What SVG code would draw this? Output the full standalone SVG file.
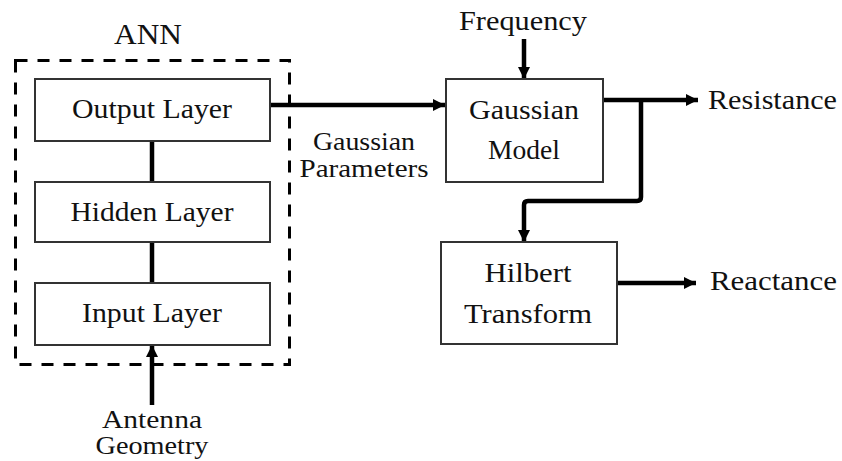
<svg xmlns="http://www.w3.org/2000/svg" width="842" height="461" viewBox="0 0 842 461">
<style>
.box{fill:#fff;stroke:#333;stroke-width:2}
.t{font-family:"Liberation Serif","DejaVu Serif",serif;font-size:27px;fill:#111;text-anchor:middle}
.ts{font-size:25px}
.c{fill:none;stroke:#000;stroke-width:4.5}
</style>
<defs>
<marker id="ah" viewBox="0 0 12 12" refX="12" refY="6" markerWidth="12" markerHeight="12" markerUnits="userSpaceOnUse" orient="auto">
<path d="M0,0 L12,6 L0,12 Z" fill="#000"/>
</marker>
</defs>
<g id="ann">
<rect x="15.5" y="60.5" width="274" height="304" fill="none" stroke="#000" stroke-width="3" stroke-dasharray="12 10"/>
<text class="t" x="148" y="44" style="font-size:30px" textLength="68" lengthAdjust="spacingAndGlyphs">ANN</text>
</g>
<g id="connectors">
<line class="c" x1="152" y1="141" x2="152" y2="182"/>
<line class="c" x1="152" y1="242" x2="152" y2="283"/>
<line class="c" x1="152" y1="405" x2="152" y2="345" marker-end="url(#ah)"/>
<line class="c" x1="270" y1="105" x2="445" y2="105" marker-end="url(#ah)"/>
<line class="c" x1="524" y1="39" x2="524" y2="79" marker-end="url(#ah)"/>
<line class="c" x1="603" y1="100" x2="698" y2="100" marker-end="url(#ah)"/>
<path class="c" d="M641,100 V197 Q641,201 637,201 H528 Q524,201 524,205 V242" marker-end="url(#ah)"/>
<line class="c" x1="617" y1="283" x2="696" y2="283" marker-end="url(#ah)"/>
</g>
<g id="output-layer">
<rect class="box" x="35" y="79" width="235" height="62"/>
<text class="t" x="152" y="118" textLength="160" lengthAdjust="spacingAndGlyphs">Output Layer</text>
</g>
<g id="hidden-layer">
<rect class="box" x="35" y="182" width="235" height="60"/>
<text class="t" x="152" y="221" textLength="163" lengthAdjust="spacingAndGlyphs">Hidden Layer</text>
</g>
<g id="input-layer">
<rect class="box" x="35" y="283" width="235" height="62"/>
<text class="t" x="152" y="322" textLength="140" lengthAdjust="spacingAndGlyphs">Input Layer</text>
</g>
<g id="antenna-geometry">
<text class="t ts" x="152" y="428" textLength="100" lengthAdjust="spacingAndGlyphs">Antenna</text>
<text class="t ts" x="152" y="454" textLength="113" lengthAdjust="spacingAndGlyphs">Geometry</text>
</g>
<g id="gaussian-parameters">
<text class="t ts" x="364" y="150" textLength="102" lengthAdjust="spacingAndGlyphs">Gaussian</text>
<text class="t ts" x="364" y="177" textLength="129" lengthAdjust="spacingAndGlyphs">Parameters</text>
</g>
<g id="frequency">
<text class="t" x="523" y="30" textLength="128" lengthAdjust="spacingAndGlyphs">Frequency</text>
</g>
<g id="gaussian-model">
<rect class="box" x="446" y="79" width="157" height="103"/>
<text class="t" x="524" y="119" textLength="110" lengthAdjust="spacingAndGlyphs">Gaussian</text>
<text class="t" x="524" y="159" textLength="72" lengthAdjust="spacingAndGlyphs">Model</text>
</g>
<g id="resistance">
<text class="t" x="708" y="109" style="text-anchor:start" textLength="129" lengthAdjust="spacingAndGlyphs">Resistance</text>
</g>
<g id="hilbert-transform">
<rect class="box" x="441" y="242" width="176" height="102"/>
<text class="t" x="528" y="282" textLength="87" lengthAdjust="spacingAndGlyphs">Hilbert</text>
<text class="t" x="528" y="323" textLength="128" lengthAdjust="spacingAndGlyphs">Transform</text>
</g>
<g id="reactance">
<text class="t" x="710" y="290" style="text-anchor:start" textLength="127" lengthAdjust="spacingAndGlyphs">Reactance</text>
</g>
</svg>
